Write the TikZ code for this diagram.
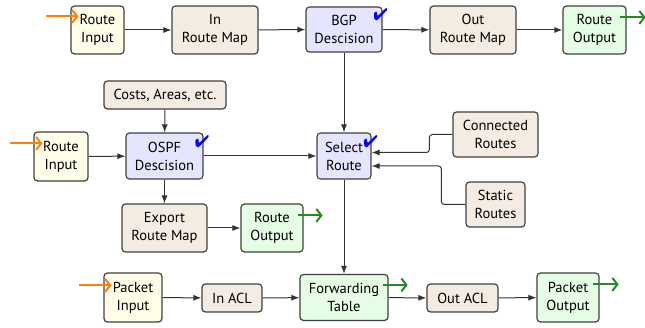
\documentclass[tikz,border=0pt]{standalone}
\usepackage{fontspec}
\setmainfont{PT Sans}
\usepackage{pifont}
\usetikzlibrary{arrows.meta,calc}

\definecolor{inyel}{HTML}{FFFDE8}
\definecolor{procbr}{HTML}{F4ECE2}
\definecolor{decbl}{HTML}{E5E5FF}
\definecolor{outgr}{HTML}{E5FDE5}
\definecolor{accor}{HTML}{FF7F0E}
\definecolor{accgr}{HTML}{228B22}

\begin{document}
\begin{tikzpicture}[x=1pt,y=-1pt,
  box/.style={draw=black!75, line width=1.2pt, rounded corners=3.5pt, align=center,
    inner sep=1pt, font=\fontsize{14.5}{18}\selectfont},
  inbox/.style={box, fill=inyel},
  procbox/.style={box, fill=procbr},
  decbox/.style={box, fill=decbl},
  outbox/.style={box, fill=outgr},
  conn/.style={-{Latex[length=8pt,width=6pt]}, line width=1pt, draw=black!80},
  inarr/.style={-{Straight Barb[length=5pt,width=13pt]}, line width=2pt, draw=accor},
  outarr/.style={-{Straight Barb[length=5pt,width=13pt]}, line width=2pt, draw=accgr},
  chk/.style={text=blue, font=\fontsize{17}{17}\selectfont, inner sep=0pt}
]
\useasboundingbox (0,0) rectangle (645,328);

% top row
\node[inbox,   minimum width=53, minimum height=48] (ri1) at (97.5,30) {Route\\Input};
\node[procbox, minimum width=86, minimum height=48] (irm) at (215,30) {In\\Route Map};
\node[decbox,  minimum width=76, minimum height=45] (bgp) at (344,29.5) {BGP\\Descision};
\node[procbox, minimum width=86, minimum height=48] (orm) at (473,30) {Out\\Route Map};
\node[outbox,  minimum width=63, minimum height=48] (ro1) at (594.5,30) {Route\\Output};

% middle
\node[procbox, minimum width=122, minimum height=28] (costs) at (165,95) {Costs, Areas, etc.};
\node[inbox,   minimum width=54, minimum height=49] (ri2) at (61,156.5) {Route\\Input};
\node[decbox,  minimum width=77, minimum height=46] (ospf) at (164.5,156) {OSPF\\Descision};
\node[decbox,  minimum width=54, minimum height=46] (sel) at (344,156) {Select\\Route};
\node[procbox, minimum width=85, minimum height=45] (connr) at (495.5,134.5) {Connected\\Routes};
\node[procbox, minimum width=59, minimum height=45] (statr) at (495.5,204.5) {Static\\Routes};
\node[procbox, minimum width=85, minimum height=48] (exp) at (164.5,228) {Export\\Route Map};
\node[outbox,  minimum width=62, minimum height=48] (ro2) at (272,228) {Route\\Output};

% bottom row
\node[inbox,   minimum width=58, minimum height=49] (pi) at (133,297.5) {Packet\\Input};
\node[procbox, minimum width=60, minimum height=28] (inacl) at (232,298) {In ACL};
\node[outbox,  minimum width=88, minimum height=46] (ft) at (344,297.5) {Forwarding\\Table};
\node[procbox, minimum width=71, minimum height=28] (outacl) at (462.5,298) {Out ACL};
\node[outbox,  minimum width=62, minimum height=49] (po) at (568,297.5) {Packet\\Output};

% check marks
\node[chk] (ck1) at ($(bgp.north east)+(-2,8.5)$) {\ding{52}};
\node[chk] (ck2) at ($(ospf.north east)+(-1.5,9.5)$) {\ding{52}};
\node[chk] (ck3) at ($(sel.north east)+(-1,9)$) {\ding{52}};

% connectors
\draw[conn] (ri1) -- (irm);
\draw[conn] (irm) -- (bgp);
\draw[conn] (bgp) -- (orm);
\draw[conn] (orm) -- (ro1);
\draw[conn] (bgp) -- (sel);
\draw[conn] (costs) -- (ospf);
\draw[conn] (ri2) -- (ospf);
\draw[conn] (ospf) -- (sel);
\draw[conn] (ospf) -- (exp);
\draw[conn] (exp) -- (ro2);
\coordinate (selc) at ($(sel.east)+(0,-3.5)$);
\coordinate (sels) at ($(sel.east)+(0,10)$);
\draw[conn, rounded corners=3pt] (connr.west) -- ++(-23,0) |- (selc);
\draw[conn, rounded corners=3pt] (statr.west) -- ++(-24,0) |- (sels);
\draw[conn] (sel) -- (ft);
\draw[conn] (pi) -- (inacl);
\draw[conn] (inacl) -- (ft);
\draw[conn] (ft) -- (outacl);
\draw[conn] (outacl) -- (po);

% accent arrows
\coordinate (o1s) at ($(ri1.north west)+(-24,11)$);
\coordinate (o1e) at ($(ri1.north west)+(8,11)$);
\coordinate (o2s) at ($(ri2.north west)+(-23,12)$);
\coordinate (o2e) at ($(ri2.north west)+(9,12)$);
\coordinate (o3s) at ($(pi.north west)+(-24,13)$);
\coordinate (o3e) at ($(pi.north west)+(8,13)$);
\draw[inarr] (o1s) -- (o1e);
\draw[inarr] (o2s) -- (o2e);
\draw[inarr] (o3s) -- (o3e);

\coordinate (g1s) at ($(ro1.north east)+(-7,12)$);
\coordinate (g1e) at ($(ro1.north east)+(19,12)$);
\coordinate (g2s) at ($(ro2.north east)+(-6,12)$);
\coordinate (g2e) at ($(ro2.north east)+(19,12)$);
\coordinate (g3s) at ($(ft.north east)+(-6,11)$);
\coordinate (g3e) at ($(ft.north east)+(19,11)$);
\coordinate (g4s) at ($(po.north east)+(-7,12)$);
\coordinate (g4e) at ($(po.north east)+(19,12)$);
\draw[outarr] (g1s) -- (g1e);
\draw[outarr] (g2s) -- (g2e);
\draw[outarr] (g3s) -- (g3e);
\draw[outarr] (g4s) -- (g4e);
\end{tikzpicture}
\end{document}
